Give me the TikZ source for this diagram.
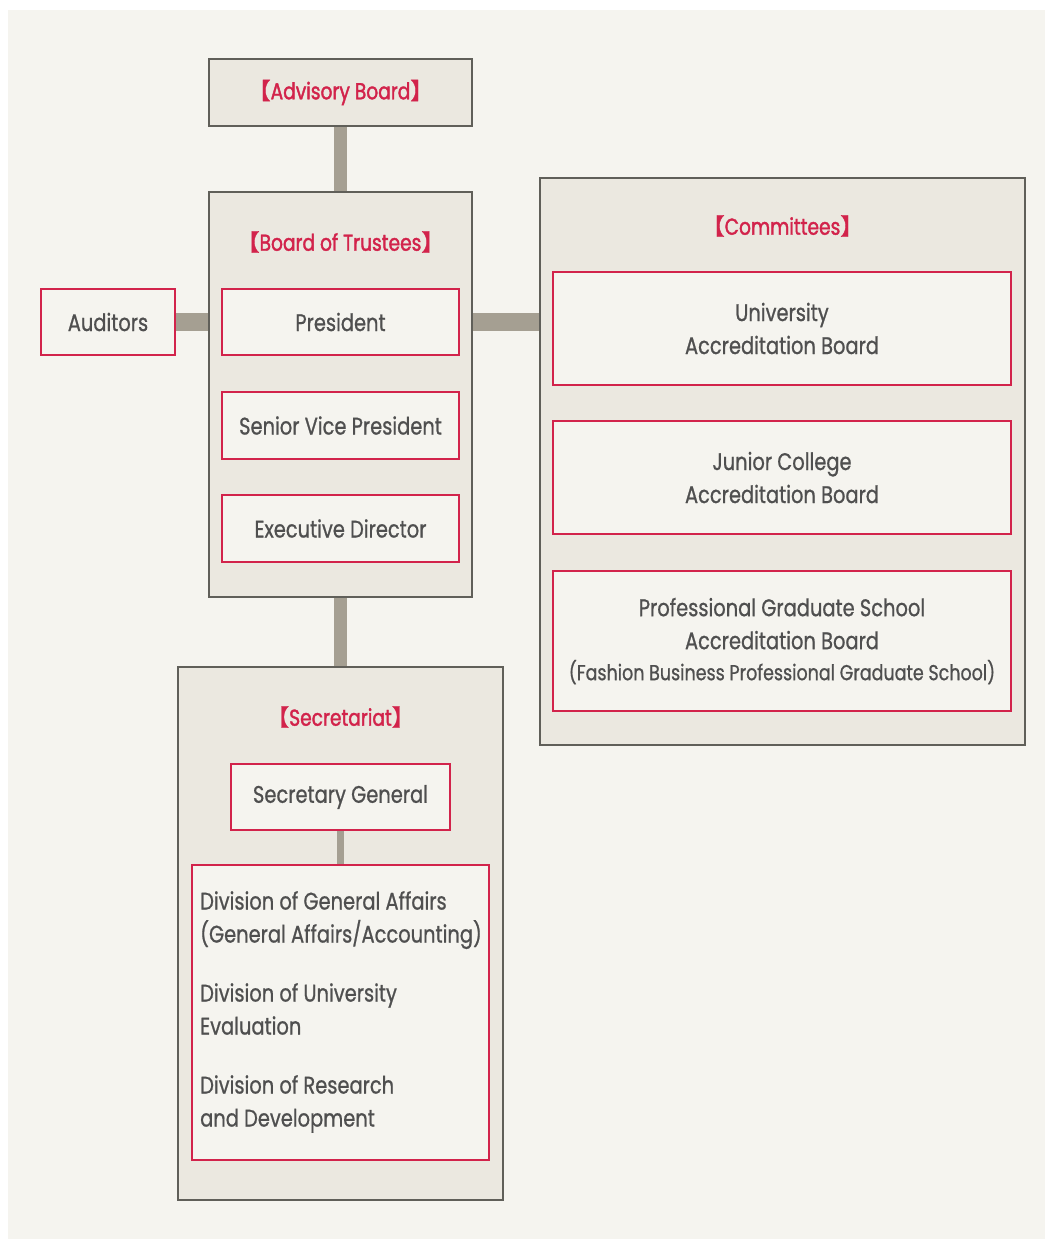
\documentclass[tikz,border=0pt]{standalone}
\usepackage{fontspec}
\setmainfont{Poppins}[FakeStretch=0.81,FakeBold=0.8]
\newfontfamily\titlefont{Poppins}[FakeStretch=0.81,FakeBold=1.6]
\newfontfamily\cjk{Noto Sans CJK SC}[FakeBold=1.6]
\usetikzlibrary{backgrounds}
\definecolor{pagebg}{HTML}{F5F4EF}
\definecolor{groupfill}{HTML}{EBE8E0}
\definecolor{groupline}{HTML}{605F59}
\definecolor{redline}{HTML}{D2234B}
\definecolor{txtgray}{HTML}{4F4F4F}
\definecolor{connfill}{HTML}{A59F92}
\newcommand{\lb}{{\cjk 【}}
\newcommand{\rb}{{\cjk 】}}
\tikzset{
  groupbox/.style={draw=groupline, line width=1.8pt, fill=groupfill, inner sep=0pt},
  unitbox/.style={draw=redline, line width=1.8pt, fill=pagebg, inner sep=0pt,
    text=txtgray, align=center, font=\fontsize{24}{33}\selectfont},
  grouptitle/.style={text=redline, font=\titlefont\fontsize{23}{26}\selectfont, inner sep=0pt},
  conn/.style={draw=connfill, line width=#1},
  conn/.default=13pt
}
\begin{document}
\begin{tikzpicture}[x=1pt,y=-1pt]
\useasboundingbox (0,0) rectangle (1045,1239);
\begin{scope}[on background layer]
\fill[white] (0,0) rectangle (1045,1239);
\fill[pagebg] (8,10) rectangle (1045,1239);
\end{scope}

% Advisory board
\node[groupbox, minimum width=263pt, minimum height=67pt] (adv) at (340.5,92.5) {};
\node[grouptitle] (advt) at (adv.center) {\lb Advisory Board\rb};

% Board of trustees
\node[groupbox, minimum width=263pt, minimum height=405pt] (bot) at (340.5,394.5) {};
\node[grouptitle] (bott) at (340.5,242) {\lb Board of Trustees\rb};
\node[unitbox, minimum width=237pt, minimum height=66pt] (pres) at (340.5,322) {President};
\node[unitbox, minimum width=237pt, minimum height=67pt] (svp) at (340.5,425.5) {Senior Vice President};
\node[unitbox, minimum width=237pt, minimum height=67pt] (exd) at (340.5,528.5) {Executive Director};

% Auditors
\node[unitbox, minimum width=134pt, minimum height=66pt] (aud) at (108,322) {Auditors};

% Committees
\node[groupbox, minimum width=485pt, minimum height=567pt] (com) at (782.5,461.5) {};
\node[grouptitle] (comt) at (782.5,226) {\lb Committees\rb};
\node[unitbox, minimum width=458pt, minimum height=113pt] (uab) at (782,328.5) {University\\Accreditation Board};
\node[unitbox, minimum width=458pt, minimum height=113pt] (jab) at (782,477.5) {Junior College\\Accreditation Board};
\node[unitbox, minimum width=458pt, minimum height=140pt] (pab) at (782,641)
  {Professional Graduate School\\Accreditation Board\\[-2pt]{\fontsize{21.6}{26}\selectfont (Fashion Business Professional Graduate School)}};

% Secretariat
\node[groupbox, minimum width=325pt, minimum height=533pt] (sec) at (340.5,933.5) {};
\node[grouptitle] (sect) at (340.5,717) {\lb Secretariat\rb};
\node[unitbox, minimum width=219pt, minimum height=66pt] (sg) at (340.5,797) {Secretary General};
\node[unitbox, minimum width=297pt, minimum height=295pt] (div) at (340.5,1012.5) {};
\node[anchor=north west, inner sep=0pt, text=txtgray, align=left,
  font=\fontsize{24}{33}\selectfont] (divt) at (200,891)
  {Division of General Affairs\\(General Affairs/Accounting)\\[26pt]
   Division of University\\Evaluation\\[26pt]
   Division of Research\\and Development};

% Connectors
\begin{scope}[on background layer]
\draw[conn] (adv.south) -- (bot.north);
\draw[conn=18pt] (aud.east) -- (aud.east -| bot.west);
\draw[conn=18pt] (pres.east -| bot.east) -- (pres.east -| com.west);
\draw[conn] (bot.south) -- (sec.north);
\end{scope}
\draw[conn=7pt] (sg.south) -- (div.north);
\end{tikzpicture}
\end{document}
